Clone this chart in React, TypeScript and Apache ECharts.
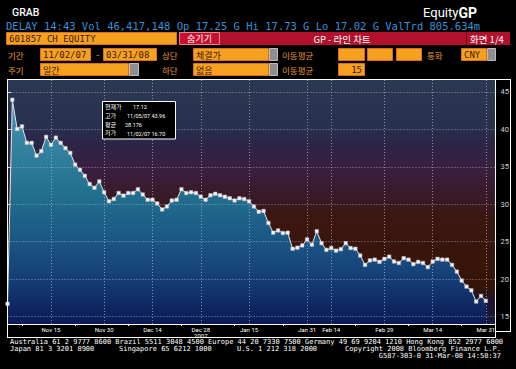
import React, { useEffect, useRef } from "react";
import * as echarts from "echarts";

// ---- trading calendar (Shanghai, 11/02/07 - 03/31/08) ----
const novDays = [2, 5, 6, 7, 8, 9, 12, 13, 14, 15, 16, 19, 20, 21, 22, 23, 26, 27, 28, 29, 30];
const decDays = [3, 4, 5, 6, 7, 10, 11, 12, 13, 14, 17, 18, 19, 20, 21, 24, 25, 26, 27, 28];
const janDays = [2, 3, 4, 7, 8, 9, 10, 11, 14, 15, 16, 17, 18, 21, 22, 23, 24, 25, 28, 29, 30, 31];
const febDays = [1, 4, 5, 13, 14, 15, 18, 19, 20, 21, 22, 25, 26, 27, 28, 29];
const marDays = [3, 4, 5, 6, 7, 10, 11, 12, 13, 14, 17, 18, 19, 20, 21, 24, 25, 26, 27, 28, 31];

// ---- daily closing prices (CNY) ----
const prices = [
  16.7, 43.96, 40.05, 40.4, 38.2, 38.2, 36.5, 37.1, 39.0, 37.95,
  38.9, 38.2, 37.5, 36.85, 35.3, 34.6, 33.8, 32.7, 32.2, 33.05,
  31.6, 30.4, 30.7, 31.5, 31.15, 31.5, 31.5, 32.0, 31.3, 30.6,
  30.6, 30.1, 29.3, 29.7, 30.5, 30.6, 32.0, 31.5, 31.6, 31.5,
  31.0, 30.6, 31.2, 31.4, 31.2, 31.0, 30.8, 30.5, 30.8, 30.7,
  30.4, 29.7, 29.0, 29.1, 27.5, 26.2, 26.5, 26.15, 26.2, 24.05,
  24.2, 24.5, 25.3, 24.6, 26.4, 24.8, 23.9, 24.15, 23.8, 24.0,
  24.8, 24.15, 24.05, 23.15, 21.9, 22.5, 22.6, 22.3, 22.7, 23.0,
  22.35, 22.15, 22.8, 22.6, 22.0, 22.3, 22.15, 21.6, 22.35, 22.7,
  22.6, 22.6, 21.9, 21.0, 19.8, 19.0, 18.5, 17.0, 17.75, 17.1,
];

// ---- axis labels ----
const xTickDates = ["11/15/07", "11/30/07", "12/14/07", "12/28/07", "01/15/08", "01/31/08", "02/14/08", "02/29/08", "03/14/08", "03/31/08"];
const xTickTexts = ["Nov 15", "Nov 30", "Dec 14", "Dec 28", "Jan 15", "Jan 31", "Feb 14", "Feb 29", "Mar 14", "Mar 31"];
const yearLabelDate = "12/28/07";
const yearLabel = "2007";
const minorTickIdx = [3, 14, 25, 36, 47, 57, 72, 83, 94];
const yTicks = [15, 20, 25, 30, 35, 40, 45];

// ---- info box ----
const infoLabels = ["현재가", "고가", "평균", "저가"];
const infoValues = ["17.12", "11/05/07 43.96", "28.176", "11/02/07 16.70"];

const pad = (n: number) => (n < 10 ? "0" + n : "" + n);
const dates: string[] = [];
const addMonth = (m: number, y: number, days: number[]) => days.forEach((d) => dates.push(`${pad(m)}/${pad(d)}/${pad(y)}`));
addMonth(11, 7, novDays);
addMonth(12, 7, decDays);
addMonth(1, 8, janDays);
addMonth(2, 8, febDays);
addMonth(3, 8, marDays);

const tickIdx = xTickDates.map((d) => dates.indexOf(d));
const yearIdx = dates.indexOf(yearLabelDate);

const CJK = "'Noto Sans CJK KR', sans-serif";
const MONO = "'DejaVu Sans Mono', monospace";
const ORANGE = "#f6a020";
const LBL = "#ea9a2c";
const BOXTXT = "#3d1800";

function txt(x: number, y: number, text: string, size: number, fill: string, family: string, align = "left", weight = "normal") {
  return {
    type: "text", x, y, z: 100, silent: true,
    style: { text, fill, font: `${weight} ${size}px ${family}`, align, verticalAlign: "middle" },
  };
}
function rect(x: number, y: number, w: number, h: number, fill: string, stroke?: string) {
  return {
    type: "rect", z: 100, silent: true,
    shape: { x, y, width: w, height: h },
    style: stroke ? { fill, stroke, lineWidth: 1 } : { fill },
  };
}
function ln(x1: number, y1: number, x2: number, y2: number, stroke = "#ffffff") {
  return { type: "line", z: 100, silent: true, shape: { x1, y1, x2, y2 }, style: { stroke, lineWidth: 1 } };
}
function obox(x: number, y: number, w: number, text: string, cjk = false, right = false) {
  const els: any[] = [rect(x + 0.5, y + 0.5, w - 1, 12, ORANGE, "#d8701a")];
  if (text) {
    els.push(txt(right ? x + w - 3 : x + 3, y + 7, text, 9, BOXTXT, cjk ? CJK : MONO, right ? "right" : "left"));
  }
  return els;
}
function gray(x: number, y: number, w: number) {
  return rect(x + 0.5, y + 0.5, w - 1, 12, "#8e8e8e", "#bdbdbd");
}

export default function App() {
  const ref = useRef<HTMLDivElement>(null);
  useEffect(() => {
    const chart = echarts.init(ref.current!, null, { renderer: "svg" });

    const r4 = 48, r5 = 63;
    const rowY = [106.4, 115.2, 124.0, 132.8];
    const valX = [133, 127, 125, 127];
    const graphics: any[] = [
      txt(12, 12.5, "GRAB", 10.5, "#ffffff", "Roboto", "left", "500"),
      {
        type: "text", x: 423, y: 12.5, z: 100, silent: true,
        style: {
          text: "{a|Equity}{b|GP}", verticalAlign: "middle",
          rich: {
            a: { fill: "#ffffff", fontSize: 13, fontFamily: "Roboto" },
            b: { fill: "#ffffff", fontSize: 14, fontWeight: "bold", fontFamily: "Roboto" },
          },
        },
      },
      txt(6, 25.5, "DELAY 14:43 Vol 46,417,148 Op 17.25 G Hi 17.73 G Lo 17.02 G ValTrd 805.634m", 10.5, "#3592dc", MONO),
      // row 3
      ...obox(6, 32, 171, "601857 CH EQUITY"),
      rect(220, 32, 290, 13, "#b3102c"),
      rect(179.5, 32.5, 40, 12, "#c8102e", "#f08090"),
      txt(199.5, 38.8, "숨기기", 9, "#ffffff", CJK, "center"),
      txt(342, 38.8, "GP - 라인 차트", 9.5, "#ffffff", CJK, "center"),
      ln(466.5, 32, 466.5, 45, "#6e0818"),
      txt(470, 38.8, "화면 1/4", 9.5, "#ffffff", CJK),
      // row 4
      txt(8, r4 + 7, "기간", 8.5, LBL, CJK),
      ...obox(40, r4, 51, "11/02/07"),
      txt(95, r4 + 7, "-", 9, LBL, MONO),
      ...obox(103, r4, 54, "03/31/08"),
      txt(162, r4 + 7, "상단", 8.5, LBL, CJK),
      ...obox(193, r4, 76, "체결가", true),
      gray(269, r4, 9),
      txt(282, r4 + 7, "이동평균", 8.5, LBL, CJK),
      ...obox(338, r4, 27, ""),
      ...obox(367, r4, 26, ""),
      ...obox(396, r4, 26, ""),
      txt(427, r4 + 7, "통화", 8.5, LBL, CJK),
      ...obox(461, r4, 26, "CNY"),
      gray(487, r4, 9),
      // row 5
      txt(8, r5 + 7, "주기", 8.5, LBL, CJK),
      ...obox(40, r5, 89, "일간", true),
      gray(129, r5, 10),
      txt(162, r5 + 7, "하단", 8.5, LBL, CJK),
      ...obox(193, r5, 76, "없음", true),
      gray(269, r5, 9),
      txt(282, r5 + 7, "이동평균", 8.5, LBL, CJK),
      ...obox(338, r5, 27, "15", false, true),
      // frame
      ln(7, 79.5, 511, 79.5),
      ln(7.5, 79, 7.5, 338),
      ln(7, 337.5, 496, 337.5),
      ln(495.5, 79, 495.5, 338),
      ln(510.5, 79, 510.5, 332),
      ln(495, 331.5, 511, 331.5),
      // info box
      rect(102.5, 101.5, 73, 37.5, "#000000", "#ffffff"),
      ...infoLabels.map((t, i) => txt(105, rowY[i], t, 6, "#ffffff", CJK)),
      ...infoValues.map((t, i) => txt(valX[i], rowY[i] + 1, t, 5.5, "#ffffff", "Roboto")),
      // footer
      txt(10, 342, "Australia 61 2 9777 8600 Brazil 5511 3048 4500 Europe 44 20 7330 7500 Germany 49 69 9204 1210 Hong Kong 852 2977 6000", 7, "#ffffff", MONO),
      txt(10, 349, "Japan 81 3 3201 8900", 7, "#ffffff", MONO),
      txt(119, 349, "Singapore 65 6212 1000", 7, "#ffffff", MONO),
      txt(237, 349, "U.S. 1 212 318 2000", 7, "#ffffff", MONO),
      txt(501, 349, "Copyright 2008 Bloomberg Finance L.P.", 7, "#ffffff", MONO, "right"),
      txt(501, 356, "G587-303-0 31-Mar-08 14:58:37", 7, "#ffffff", MONO, "right"),
    ];

    const bg = new echarts.graphic.LinearGradient(0, 0, 0, 1, [
      { offset: 0, color: "#2b3853" },
      { offset: 0.18, color: "#283150" },
      { offset: 0.26, color: "#2c2547" },
      { offset: 0.36, color: "#3a1f40" },
      { offset: 0.47, color: "#391a28" },
      { offset: 0.56, color: "#3b1710" },
      { offset: 0.84, color: "#351406" },
      { offset: 0.92, color: "#1c1430" },
      { offset: 1, color: "#121a40" },
    ]);
    const fill = new echarts.graphic.LinearGradient(0, 85, 0, 324, [
      { offset: 0, color: "#4a9cb6" },
      { offset: 0.45, color: "#22708f" },
      { offset: 0.68, color: "#1a5282" },
      { offset: 0.82, color: "#143c74" },
      { offset: 1, color: "#0b1a55" },
    ], true);

    const gridLine = { type: [1, 2], color: "rgba(205,205,220,0.6)", width: 1 };

    chart.setOption({
      animation: false,
      backgroundColor: "#000000",
      grid: { left: 7.5, right: 20.5, top: 80, bottom: 45, show: true, backgroundColor: bg, borderWidth: 0 },
      xAxis: {
        type: "value", min: 0, max: 101,
        axisLine: { show: true, lineStyle: { color: "#ffffff", width: 1 } },
        axisTick: { show: true, customValues: minorTickIdx, length: 2, lineStyle: { color: "#ffffff" } },
        axisLabel: {
          customValues: tickIdx,
          formatter: (v: number) => {
            const k = tickIdx.indexOf(Math.round(v));
            const t = k >= 0 ? xTickTexts[k] : "";
            return Math.round(v) === yearIdx ? t + "\n" + yearLabel : t;
          },
          color: "#ffffff", fontSize: 6, fontFamily: "Roboto", margin: 2, lineHeight: 6.5,
        },
        splitLine: { show: false },
      },
      yAxis: {
        type: "value", position: "right", min: 14, max: 46.6,
        axisLine: { show: true, lineStyle: { color: "#ffffff", width: 1 } },
        axisTick: { show: true, customValues: yTicks, length: 4, lineStyle: { color: "#d0d0d0" } },
        axisLabel: { customValues: yTicks, color: "#d0d0d0", fontSize: 7.5, fontFamily: "Roboto", margin: 5 },
        splitLine: { show: false },
      },
      graphic: { elements: graphics },
      series: [
        {
          type: "line",
          data: prices.map((v, i) => [i, v]),
          symbol: "rect",
          symbolSize: 3.5,
          showSymbol: true,
          itemStyle: { color: "#f4f4f4", borderColor: "#b8b8c8", borderWidth: 0.5 },
          lineStyle: { color: "#e6e6e6", width: 1 },
          areaStyle: { origin: "start", color: fill, opacity: 1 },
          markLine: {
            silent: true, symbol: "none", label: { show: false },
            lineStyle: gridLine,
            data: [...yTicks.map((v) => ({ yAxis: v })), ...tickIdx.map((i) => ({ xAxis: i }))],
          },
        },
      ],
    });
    return () => chart.dispose();
  }, []);
  return <div ref={ref} style={{ position: "fixed", left: 0, top: 0, width: 516, height: 369, background: "#000" }} />;
}
